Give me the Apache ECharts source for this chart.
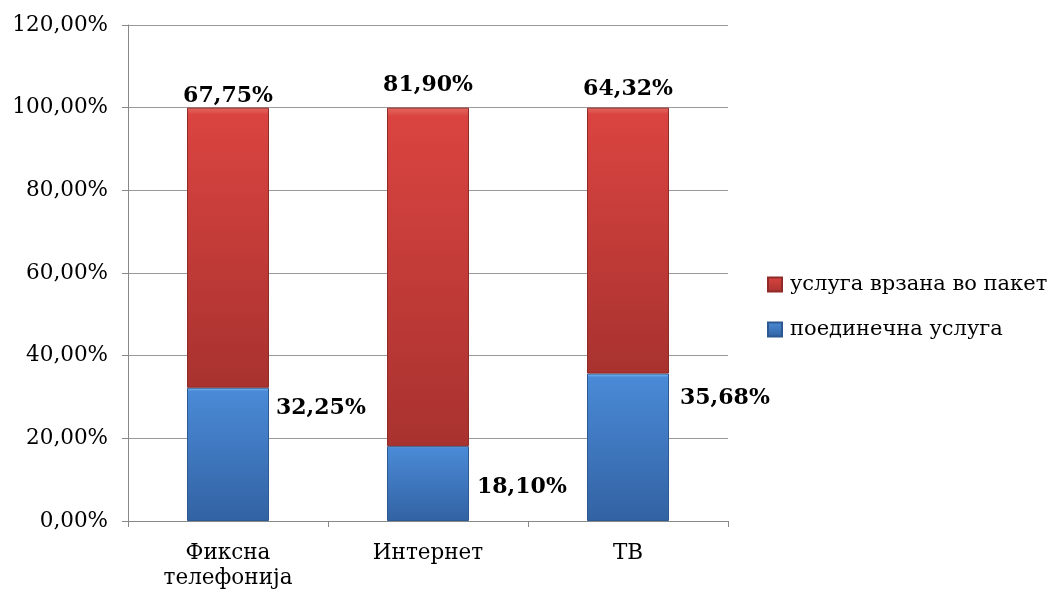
<!DOCTYPE html>
<html>
<head>
<meta charset="utf-8">
<script src="https://cdn.jsdelivr.net/npm/echarts@6/dist/echarts.min.js"></script>
<style>html,body{margin:0;padding:0;background:#fff}#c{width:1056px;height:594px}</style>
</head>
<body>
<div id="c"></div>
<script>
const categories = ['Фиксна\nтелефонија', 'Интернет', 'ТВ'];
const seriesNames = ['поединечна услуга', 'услуга врзана во пакет'];
const singleValues = [32.25, 18.10, 35.68];
const bundleValues = [67.75, 81.90, 64.32];
const yTicks = [0, 20, 40, 60, 80, 100, 120];

// label nudges (style, not data)
const singleLabelOffsets = [[2, -46], [3, 4], [6, -49]];
const bundleLabelOffsets = [[0, 2], [0, -9], [0, -5]];

const FONT = 'DejaVu Serif';
const fmt = v => v.toFixed(2).replace('.', ',') + '%';

function vgrad(hi, top, bottom) {
  return new echarts.graphic.LinearGradient(0, 0, 0, 1, [
    {offset: 0, color: hi}, {offset: 0.025, color: top}, {offset: 1, color: bottom}
  ]);
}
const blueFill = vgrad('#86c4f2', '#4a8ad6', '#3262a3');
const redFill = vgrad('#e46a62', '#da4440', '#a8322f');

const chart = echarts.init(document.getElementById('c'));
chart.setOption({
  animation: false,
  backgroundColor: '#fff',
  grid: {left: 128, right: 328, top: 25, bottom: 73},
  legend: {
    orient: 'vertical', left: 762, top: 269,
    data: [seriesNames[1], seriesNames[0]],
    itemWidth: 14, itemHeight: 14, itemGap: 24, icon: 'rect',
    textStyle: {fontFamily: FONT, fontSize: 21, color: '#000', padding: [0, 0, 0, 3]}
  },
  xAxis: {
    type: 'category', data: categories,
    axisLine: {lineStyle: {color: '#888', width: 1}},
    axisTick: {show: true, alignWithLabel: false, length: 6, lineStyle: {color: '#888'}},
    axisLabel: {fontFamily: FONT, fontSize: 21.5, color: '#000', margin: 20, lineHeight: 25, interval: 0}
  },
  yAxis: {
    type: 'value', min: 0, max: 120, interval: 20,
    axisLine: {show: true, lineStyle: {color: '#888'}},
    axisTick: {show: true, length: 6, lineStyle: {color: '#888'}},
    splitLine: {lineStyle: {color: '#999', width: 1}},
    axisLabel: {fontFamily: FONT, fontSize: 21.5, color: '#000', margin: 20,
      formatter: v => yTicks.includes(v) ? fmt(v) : ''}
  },
  series: [
    {
      name: seriesNames[0], type: 'bar', stack: 's', barWidth: '41%',
      itemStyle: {color: blueFill, borderColor: '#2d5891', borderWidth: 1},
      data: singleValues.map((v, i) => ({
        value: v,
        label: {show: true, position: 'right', offset: singleLabelOffsets[i]}
      })),
      label: {fontFamily: FONT, fontWeight: 'bold', fontSize: 22, color: '#000', formatter: p => fmt(p.value)}
    },
    {
      name: seriesNames[1], type: 'bar', stack: 's', barWidth: '41%',
      itemStyle: {color: redFill, borderColor: '#8f2a28', borderWidth: 1},
      data: bundleValues.map((v, i) => ({
        value: v,
        label: {show: true, position: 'top', distance: 2, offset: bundleLabelOffsets[i]}
      })),
      label: {fontFamily: FONT, fontWeight: 'bold', fontSize: 22, color: '#000', formatter: p => fmt(p.value)}
    }
  ]
});
</script>
</body>
</html>
